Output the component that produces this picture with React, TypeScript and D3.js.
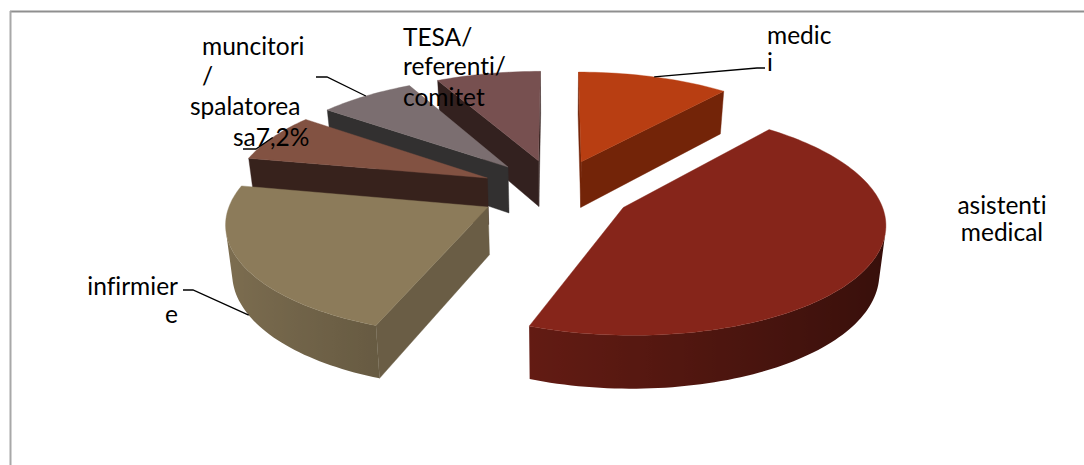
import React from "react";
import * as d3 from "d3";

const categories = ["medici", "asistenti medical", "infirmiere", "muncitori / spalatoreasa", "muncitori", "TESA/ referenti/ comitet"];
const shares = [11.1, 44.6, 22.4, 7.2, 7.06, 7.64];
const topColors = ["#b83e12", "#86251a", "#8c7b5a", "#825242", "#7b6e70", "#775050"];
const wallColors = ["#732408", "#5a1a10", "#6a5d45", "#37221c", "#323030", "#33211f"];
const drawOrder = [5, 4, 3, 0, 1, 2];

const W = 1084, H = 465;
const cx = 556, cy = 191, R = 254.5, Ky = 107.5, persp = 0.124, explode = 0.3, depthBase = 9, depthPersp = 38, baseScale = 0.98;

type P = { x: number; y: number; s: number };
const project = (X: number, Y: number): P => {
  const s = 1 / (1 + persp * Y);
  return { x: cx + X * R * s, y: cy - Y * Ky * s, s };
};
const bottomOf = (p: P): P => ({
  x: cx + (p.x - cx) * baseScale,
  y: p.y + depthBase + depthPersp * p.s,
  s: p.s,
});

const arcs = d3.pie<number>().sort(null).value((d) => d)(shares);
const midAngle = (i: number) => (arcs[i].startAngle + arcs[i].endAngle) / 2;

const rimPoint = (i: number, a: number): P => {
  const m = midAngle(i);
  return project(explode * Math.sin(m) + Math.sin(a), explode * Math.cos(m) + Math.cos(a));
};
const apexPoint = (i: number): P => {
  const m = midAngle(i);
  return project(explode * Math.sin(m), explode * Math.cos(m));
};

const linePath = d3.line<P>().x((d) => d.x).y((d) => d.y);
const closed = (pts: P[]) => linePath(pts) + "Z";
const area2 = (q: P[]) =>
  d3.sum(q, (p, k) => {
    const n = q[(k + 1) % q.length];
    return p.x * n.y - n.x * p.y;
  });

const shade = d3.scaleLinear().domain([-1, 1]).range([0.9, 0.4]);
const darken = (hex: string, f: number) => {
  const c = d3.rgb(hex);
  return d3.rgb(c.r * f, c.g * f, c.b * f).formatHex();
};

function Slice({ i }: { i: number }) {
  const { startAngle, endAngle } = arcs[i];
  const steps = Math.max(8, Math.round((endAngle - startAngle) / 0.025));
  const angles = d3.range(steps + 1).map((k) => startAngle + ((endAngle - startAngle) * k) / steps);
  const rim = angles.map((a) => rimPoint(i, a));
  const apex = apexPoint(i);
  const walls: React.ReactNode[] = [];
  const radial = (a: P, b: P, key: string) => {
    const q = [a, b, bottomOf(b), bottomOf(a)];
    if (area2(q) < 0)
      walls.push(<path key={key} d={closed(q)} fill={wallColors[i]} stroke={wallColors[i]} strokeWidth={0.4} />);
  };
  radial(apex, rim[0], "r0");
  radial(rim[rim.length - 1], apex, "r1");

  // outer wall: one polygon over the visible run of the rim, with a gradient across it
  const visible = rim.map((_, k) => k).filter((k) => {
    if (k === rim.length - 1) return false;
    return area2([rim[k], rim[k + 1], bottomOf(rim[k + 1]), bottomOf(rim[k])]) < 0;
  });
  let defs: React.ReactNode = null;
  if (visible.length) {
    const first = visible[0], last = visible[visible.length - 1] + 1;
    const run = rim.slice(first, last + 1);
    const runAngles = angles.slice(first, last + 1);
    const id = "rim" + i;
    const x0 = d3.min(run, (p) => p.x) as number;
    const x1 = d3.max(run, (p) => p.x) as number;
    const stops = run
      .map((p, k) => ({ off: (p.x - x0) / (x1 - x0 || 1), col: darken(topColors[i], shade(Math.sin(runAngles[k]))) }))
      .sort((a, b) => a.off - b.off);
    defs = (
      <defs>
        <linearGradient id={id} gradientUnits="userSpaceOnUse" x1={x0} x2={x1} y1={0} y2={0}>
          {stops.map((s, k) => (
            <stop key={k} offset={s.off} stopColor={s.col} />
          ))}
        </linearGradient>
      </defs>
    );
    walls.push(<path key="rim" d={closed([...run, ...run.map(bottomOf).reverse()])} fill={`url(#${id})`} />);
  }
  return (
    <g>
      {defs}
      {walls}
      <path d={closed([apex, ...rim])} fill={topColors[i]} stroke={topColors[i]} strokeWidth={0.4} />
    </g>
  );
}

const font = "Lato, Carlito, sans-serif";
const fs = 24.5;

const Label = ({ x, y, t, anchor }: { x: number; y: number; t: string; anchor?: string }) => (
  <text x={x} y={y} fontFamily={font} fontSize={fs} fill="#000" textAnchor={anchor ?? "start"} style={{ fontVariantLigatures: "none" }}>
    {t}
  </text>
);

export default function App() {
  const med = rimPoint(0, midAngle(0));
  const inf = bottomOf(rimPoint(2, midAngle(2)));
  const spa = rimPoint(3, midAngle(3));
  const mun = rimPoint(4, midAngle(4));
  const leader = (pts: [number, number][]) => (
    <path d={d3.line()(pts) ?? ""} fill="none" stroke="#000" strokeWidth={1.3} />
  );
  return (
    <svg width={W} height={H} style={{ position: "absolute", left: 0, top: 0, background: "#fff" }}>
      <line x1={10} y1={11.5} x2={W} y2={11.5} stroke="#8f8f8f" strokeWidth={2} />
      <line x1={10.5} y1={11} x2={10.5} y2={H} stroke="#a8a8a8" strokeWidth={2} />
      {drawOrder.map((i) => (
        <Slice key={categories[i]} i={i} />
      ))}
      {leader([[765, 68], [757, 68], [med.x, med.y]])}
      {leader([[316, 77], [327, 77], [mun.x, mun.y]])}
      {leader([[243, 149], [256, 149], [spa.x, spa.y]])}
      {leader([[183, 290], [193, 290], [inf.x, inf.y]])}
      <Label x={767} y={44} t="medic" />
      <Label x={767} y={71} t="i" />
      <Label x={1002} y={214} t="asistenti" anchor="middle" />
      <Label x={1002} y={241} t="medical" anchor="middle" />
      <Label x={403} y={46} t="TESA/" />
      <Label x={403} y={75} t="referenti/" />
      <Label x={403} y={106} t="comitet" />
      <Label x={202} y={55} t="muncitori" />
      <Label x={202} y={85} t="/" />
      <Label x={190} y={115} t="spalatorea" />
      <Label x={233} y={146} t="sa7,2%" />
      <Label x={178} y={295} t="infirmier" anchor="end" />
      <Label x={178} y={323} t="e" anchor="end" />
    </svg>
  );
}
